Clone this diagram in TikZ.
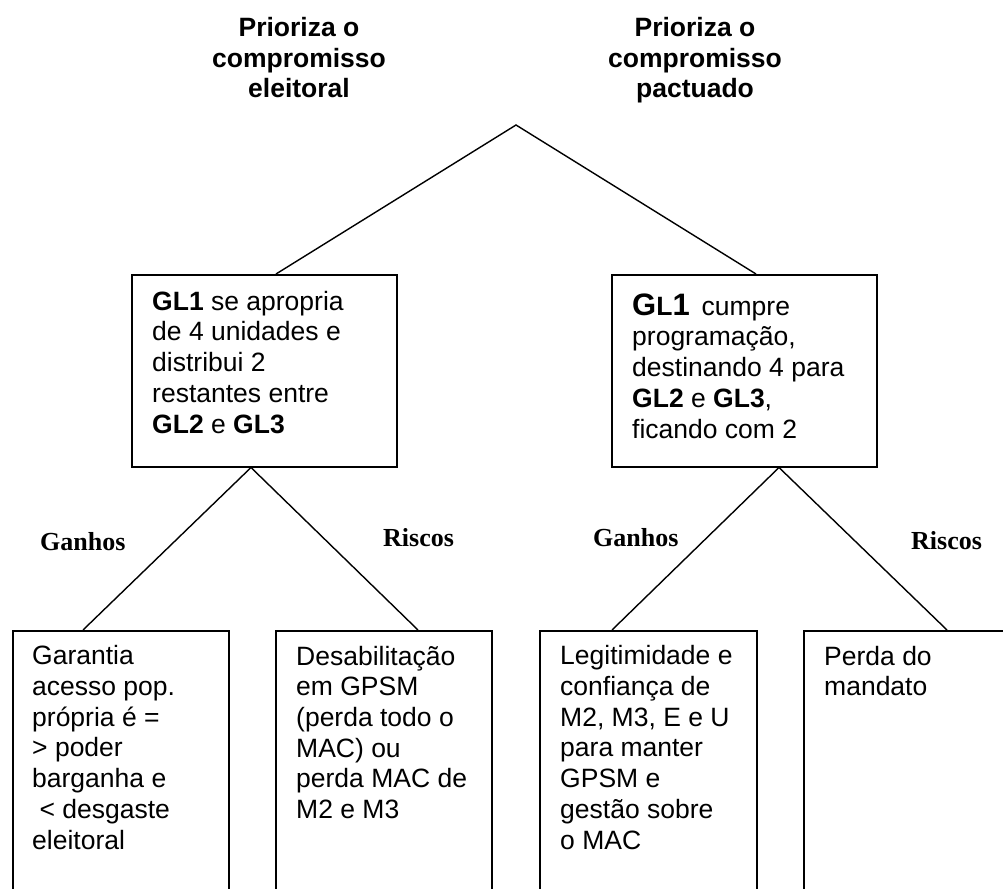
\documentclass[tikz,border=0pt]{standalone}
\usepackage{fontspec}
\setmainfont{Liberation Sans}
\newfontfamily\labelserif{Liberation Serif}
\begin{document}
\begin{tikzpicture}[x=1pt,y=-1pt,
  box/.style={draw, line width=1.5pt, inner sep=0pt, anchor=north west},
  branch/.style={line width=1.4pt},
  txt/.style={anchor=base west, align=left, inner sep=0pt,
    font=\fontsize{26.5}{30.7}\selectfont},
  head/.style={anchor=base, align=center, inner sep=0pt,
    font=\fontsize{26.5}{30.5}\selectfont\bfseries},
  lbl/.style={anchor=base west, inner sep=0pt,
    font=\fontsize{26}{30}\selectfont\labelserif\bfseries}]
\clip (0,0) rectangle (1003,888);
\fill[white] (0,0) rectangle (1003,888);

% headings of the two options (anchored at the last line's baseline)
\node[head] (hL) at (299,98) {Prioriza o\\compromisso\\eleitoral};
\node[head] (hR) at (695,98) {Prioriza o\\compromisso\\pactuado};

% root of the tree
\coordinate (root) at (516,125);

% second level boxes
\node[box, minimum width=265, minimum height=192] (mL) at (131,274) {};
\node[box, minimum width=265, minimum height=192] (mR) at (611,274) {};
\node[txt] (tL) at (152,433) {\textbf{GL1} se apropria\\de 4 unidades e\\distribui 2\\restantes entre\\\textbf{GL2} e \textbf{GL3}};
\node[txt] (tR) at (632,438) {\textbf{{\fontsize{31}{30}\selectfont G}L{\fontsize{31}{30}\selectfont 1}}\hspace{0.45em}cumpre\\programação,\\destinando 4 para\\\textbf{GL2} e \textbf{GL3},\\ficando com 2};

% outcome boxes (running past the lower edge)
\node[box, minimum width=216, minimum height=300] (b1) at (12,630) {};
\node[box, minimum width=216, minimum height=300] (b2) at (275,630) {};
\node[box, minimum width=217, minimum height=300] (b3) at (539,630) {};
\node[box, minimum width=260, minimum height=300] (b4) at (803,630) {};
\node[txt] (t1) at (32,849) {Garantia\\acesso pop.\\própria é =\\> poder\\barganha e\\\hspace*{0.28em}< desgaste\\eleitoral};
\node[txt] (t2) at (296,818.5) {Desabilitação\\em GPSM\\(perda todo o\\MAC) ou\\perda MAC de\\M2 e M3};
\node[txt] (t3) at (560,849) {Legitimidade e\\confiança de\\M2, M3, E e U\\para manter\\GPSM e\\gestão sobre\\o MAC};
\node[txt] (t4) at (824,695.7) {Perda do\\mandato};

% branches
\draw[branch] ([xshift=145pt]mL.north west) -- (root) -- ([xshift=145pt]mR.north west);
\coordinate (jL) at ([xshift=120pt]mL.south west);
\coordinate (jR) at ([xshift=168pt]mR.south west);
\draw[branch] ([xshift=71pt]b1.north west) -- (jL) -- ([xshift=143pt]b2.north west);
\draw[branch] ([xshift=73pt]b3.north west) -- (jR) -- ([xshift=144pt]b4.north west);

% branch labels
\node[lbl] (g1) at (40,550) {Ganhos};
\node[lbl] (r1) at (383,546) {Riscos};
\node[lbl] (g2) at (593,546) {Ganhos};
\node[lbl] (r2) at (911,549) {Riscos};
\end{tikzpicture}
\end{document}
